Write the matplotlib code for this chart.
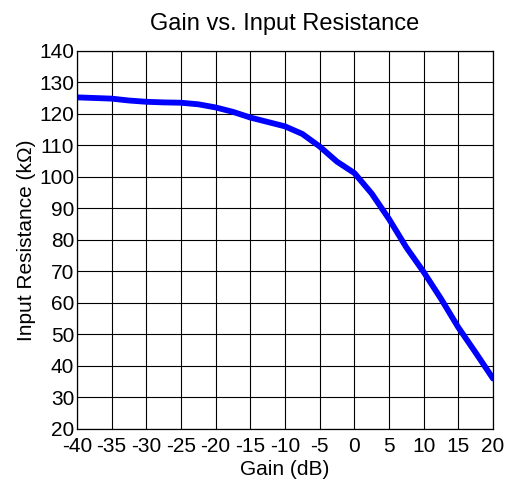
import matplotlib
matplotlib.use("Agg")
import matplotlib.pyplot as plt

plt.rcParams["font.family"] = ["Liberation Sans", "DejaVu Sans"]
plt.rcParams["axes.unicode_minus"] = False

# gain sweep (dB) and measured input resistance (kOhm)
gain_db = [-40, -37.5, -35, -32.5, -30, -27.5, -25, -22.5, -20, -17.5, -15,
           -12.5, -10, -7.5, -5, -2.5, 0, 2.5, 5, 7.5, 10, 12.5, 15, 17.5, 20]
r_in = [125.2, 125.0, 124.8, 124.2, 123.8, 123.6, 123.5, 123.0, 122.0, 120.6,
        118.8, 117.4, 116.0, 113.6, 109.6, 104.8, 101.2, 94.7, 86.6, 77.6,
        69.8, 61.3, 52.2, 44.2, 36.0]

x_ticks = list(range(-40, 21, 5))
y_ticks = list(range(20, 141, 10))

fig = plt.figure(figsize=(5.08, 4.90), dpi=100)
ax = fig.add_axes([0.1516, 0.1245, 0.8189, 0.772])

ax.plot(gain_db, r_in, color="#0000ff", linewidth=4.2, solid_capstyle="round")

ax.set_xlim(-40, 20)
ax.set_ylim(20, 140)
ax.set_xticks(x_ticks)
ax.set_yticks(y_ticks)
ax.set_xticklabels([str(t) for t in x_ticks])
ax.set_yticklabels([str(t) for t in y_ticks])
ax.tick_params(length=0, labelsize=15, pad=2)
ax.tick_params(axis="x", pad=6)
ax.grid(True, color="black", linewidth=0.8)
ax.set_axisbelow(True)
for s in ax.spines.values():
    s.set_linewidth(0.9)

ax.set_title("Gain vs. Input Resistance", fontsize=17, pad=15)
ax.set_xlabel("Gain (dB)", fontsize=15, labelpad=3)
ax.set_ylabel("Input Resistance (kΩ)", fontsize=15, labelpad=2)

fig.savefig("out.png", dpi=100)
